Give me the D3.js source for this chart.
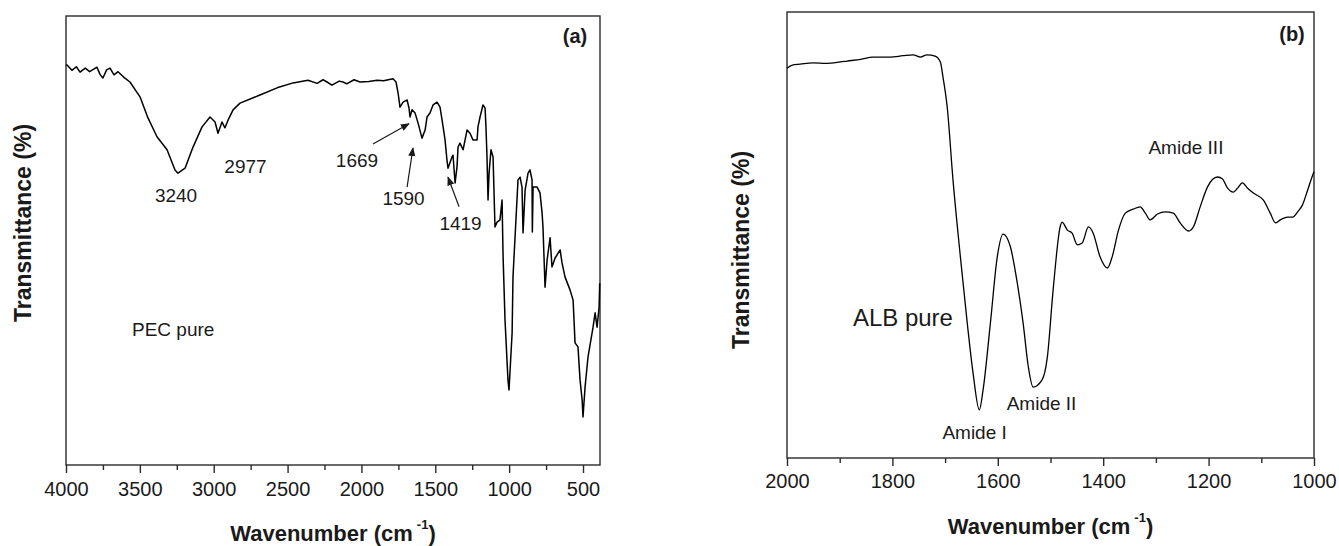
<!DOCTYPE html>
<html>
<head>
<meta charset="utf-8">
<script src="https://cdn.jsdelivr.net/npm/d3@7"></script>
<style>
  html, body { margin: 0; padding: 0; background: #fff; }
  svg { display: block; font-family: "Liberation Sans", Arial, sans-serif; }
</style>
</head>
<body>
<svg id="chart" width="1339" height="546"></svg>
<script>
// ---- FTIR spectrum of pure PEC (4000–400 cm-1) ----
const pecWavenumber = [4000, 3993, 3960, 3930, 3905, 3870, 3840, 3790, 3770, 3750, 3725, 3702, 3675, 3648, 3610, 3567, 3499, 3445, 3384, 3316, 3262, 3242, 3194, 3140, 3079, 3025, 2991, 2971, 2944, 2924, 2903, 2869, 2822, 2687, 2571, 2463, 2362, 2300, 2260, 2233, 2200, 2150, 2125, 2100, 2050, 2010, 1950, 1894, 1850, 1786, 1766, 1752, 1739, 1718, 1691, 1678, 1671, 1658, 1637, 1617, 1590, 1569, 1556, 1536, 1515, 1488, 1468, 1454, 1434, 1421, 1414, 1387, 1380, 1366, 1353, 1346, 1333, 1312, 1285, 1265, 1245, 1217, 1211, 1197, 1177, 1163, 1157, 1150, 1143, 1136, 1123, 1109, 1096, 1082, 1062, 1048, 1041, 1028, 1008, 1001, 980, 974, 960, 940, 926, 913, 906, 892, 872, 859, 845, 843, 838, 811, 791, 777, 771, 757, 743, 723, 710, 689, 655, 642, 622, 588, 567, 554, 534, 520, 506, 500, 486, 466, 432, 418, 405, 391, 387];
const pecTransmittance = [89.1, 89.1, 87.9, 88.7, 87.5, 88.4, 87.6, 88.6, 87.0, 86.2, 88.0, 88.4, 86.9, 87.6, 86.4, 85.3, 82.0, 77.3, 73.1, 70.2, 65.7, 65.0, 66.1, 70.8, 75.3, 77.5, 76.4, 73.9, 76.4, 75.1, 76.8, 79.1, 80.6, 82.4, 84.0, 85.1, 85.7, 85.0, 85.8, 85.3, 84.6, 85.5, 85.3, 84.9, 85.8, 85.3, 85.4, 85.7, 85.6, 86.0, 85.3, 82.9, 79.7, 80.8, 81.3, 79.5, 77.5, 79.1, 78.4, 76.2, 72.8, 74.6, 77.5, 78.4, 80.2, 80.8, 79.7, 76.8, 72.4, 67.9, 66.1, 68.6, 69.0, 62.8, 66.4, 70.8, 71.7, 70.2, 74.6, 73.9, 72.4, 72.4, 75.3, 77.5, 80.2, 79.5, 75.3, 68.6, 59.0, 65.0, 70.2, 68.6, 53.0, 54.1, 54.6, 59.0, 46.3, 32.3, 18.9, 16.7, 29.4, 41.9, 50.8, 63.5, 64.1, 61.9, 51.7, 61.2, 65.0, 65.7, 63.5, 51.9, 61.9, 61.9, 60.6, 56.1, 53.0, 39.6, 45.7, 50.6, 44.1, 46.1, 47.9, 45.0, 41.9, 39.0, 36.7, 27.2, 26.3, 18.9, 14.5, 10.7, 17.4, 24.1, 30.7, 33.9, 30.7, 35.2, 40.5];

// ---- FTIR spectrum of pure ALB (2000–1000 cm-1) ----
const albWavenumber = [2000, 1990, 1975, 1951, 1925, 1899, 1886, 1860, 1837, 1804, 1780, 1761, 1747, 1734, 1719, 1709, 1704, 1696, 1685, 1671, 1658, 1647, 1635, 1628, 1614, 1601, 1590, 1576, 1563, 1552, 1542, 1533, 1516, 1506, 1495, 1481, 1478, 1468, 1459, 1449, 1440, 1428, 1419, 1406, 1392, 1383, 1371, 1358, 1343, 1330, 1320, 1311, 1297, 1282, 1267, 1254, 1238, 1229, 1216, 1202, 1183, 1174, 1164, 1153, 1145, 1136, 1126, 1115, 1096, 1083, 1073, 1064, 1050, 1041, 1031, 1022, 1012, 1001, 1000];
const albTransmittance = [87.4, 88.1, 88.3, 88.6, 88.5, 88.8, 89.0, 89.4, 89.9, 89.9, 90.2, 90.4, 89.9, 90.4, 90.1, 88.8, 85.4, 78.7, 62.3, 45.1, 30.3, 19.1, 10.8, 15.2, 30.3, 45.1, 50.2, 47.3, 39.2, 30.3, 20.4, 15.9, 17.5, 22.6, 37.7, 52.2, 52.9, 51.1, 50.4, 47.8, 48.2, 51.8, 50.4, 45.1, 42.6, 45.1, 51.1, 54.9, 55.8, 56.3, 54.9, 53.4, 54.7, 55.2, 54.9, 52.7, 50.9, 51.8, 56.3, 60.8, 63.0, 62.6, 60.5, 59.6, 60.5, 61.7, 60.5, 59.4, 57.8, 54.9, 52.7, 53.4, 54.0, 54.0, 55.2, 56.7, 60.1, 63.9, 64.2];

// ---- axis ticks ----
const pecTicks = [4000, 3500, 3000, 2500, 2000, 1500, 1000, 500];
const pecMinorTicks = [3750, 3250, 2750, 2250, 1750, 1250, 750];
const albTicks = [2000, 1800, 1600, 1400, 1200, 1000];
const albMinorTicks = [1900, 1700, 1500, 1300, 1100];

// ---- band labels (anchored in wavenumber / transmittance units) ----
const pecLabels = [
  { text: "3240", wn: 3255, t: 58.6, anchor: "middle" },
  { text: "2977", wn: 2785, t: 65.0, anchor: "middle" },
  { text: "1669", wn: 2030, t: 66.4, anchor: "middle" },
  { text: "1590", wn: 1715, t: 57.9, anchor: "middle" },
  { text: "1419", wn: 1329, t: 52.3, anchor: "middle" },
  { text: "PEC pure", wn: 3553, t: 28.7, anchor: "start" }
];
const pecArrows = [
  { from: [1922, 71.5], to: [1678, 76.0] },
  { from: [1691, 61.9], to: [1651, 70.6] },
  { from: [1339, 57.5], to: [1414, 64.1] }
];
const albLabels = [
  { text: "Amide I", wn: 1644, t: 4.3, anchor: "middle", size: 19 },
  { text: "Amide II", wn: 1517, t: 10.8, anchor: "middle", size: 19 },
  { text: "Amide III", wn: 1243, t: 68.2, anchor: "middle", size: 19 },
  { text: "ALB pure", wn: 1875, t: 29.6, anchor: "start", size: 24 }
];

const svg = d3.select("#chart");
const ink = "#1a1a1a";

svg.append("defs").append("marker")
  .attr("id", "arrowhead")
  .attr("viewBox", "0 0 10 10")
  .attr("refX", 9).attr("refY", 5)
  .attr("markerWidth", 9).attr("markerHeight", 9)
  .attr("markerUnits", "userSpaceOnUse")
  .attr("orient", "auto")
  .append("path").attr("d", "M0,1 L10,5 L0,9 Z").attr("fill", ink);

function panel(cfg) {
  const x = d3.scaleLinear().domain(cfg.xDomain).range([cfg.left, cfg.right]);
  const y = d3.scaleLinear().domain([0, 100]).range([cfg.bottom, cfg.top]);
  const g = svg.append("g");

  // frame
  g.append("rect")
    .attr("x", cfg.left).attr("y", cfg.top)
    .attr("width", cfg.right - cfg.left).attr("height", cfg.bottom - cfg.top)
    .attr("fill", "none").attr("stroke", "#2a2a2a").attr("stroke-width", 1.4);

  // minor ticks
  const minor = g.append("g").attr("transform", `translate(0,${cfg.bottom})`)
    .call(d3.axisBottom(x).tickValues(cfg.minor).tickSize(5).tickSizeOuter(0).tickFormat(""));
  minor.select(".domain").remove();
  minor.selectAll("line").attr("stroke", "#2a2a2a").attr("stroke-width", 1.4);

  // major ticks and labels
  const major = g.append("g").attr("transform", `translate(0,${cfg.bottom})`)
    .call(d3.axisBottom(x).tickValues(cfg.ticks).tickSize(8).tickSizeOuter(0)
      .tickPadding(cfg.tickPad).tickFormat(d3.format("d")));
  major.select(".domain").remove();
  major.selectAll("line").attr("stroke", "#2a2a2a").attr("stroke-width", 1.4);
  major.selectAll("text")
    .attr("font-family", "'Liberation Sans', Arial, sans-serif")
    .attr("font-size", 20).attr("fill", ink);

  // spectrum
  const pts = cfg.wn.map((w, i) => [w, cfg.t[i]]);
  g.append("path").datum(pts)
    .attr("fill", "none").attr("stroke", "#000").attr("stroke-width", cfg.lineWidth)
    .attr("stroke-linejoin", "round")
    .attr("d", d3.line().x(d => x(d[0])).y(d => y(d[1])).curve(cfg.curve));

  // axis titles
  const xt = g.append("text")
    .attr("x", (cfg.left + cfg.right) / 2).attr("y", cfg.xTitleY)
    .attr("text-anchor", "middle").attr("font-weight", "bold")
    .attr("font-size", 22).attr("fill", ink);
  xt.append("tspan").text("Wavenumber (cm");
  xt.append("tspan").attr("font-size", 13).attr("dx", 4).attr("dy", -12).text("-1");
  xt.append("tspan").attr("dy", 12).text(")");

  g.append("text")
    .attr("transform", `translate(${cfg.yTitleX},${cfg.yTitleY}) rotate(-90)`)
    .attr("text-anchor", "middle").attr("dy", "0.36em")
    .attr("font-weight", "bold").attr("font-size", 23).attr("fill", ink)
    .text("Transmittance (%)");

  // panel tag
  g.append("text")
    .attr("x", cfg.tagX).attr("y", cfg.tagY)
    .attr("text-anchor", "middle").attr("font-weight", "bold")
    .attr("font-size", 20).attr("fill", ink).text(cfg.tag);

  // annotations
  g.selectAll("text.band").data(cfg.labels).join("text")
    .attr("class", "band")
    .attr("x", d => x(d.wn)).attr("y", d => y(d.t))
    .attr("text-anchor", d => d.anchor)
    .attr("font-size", d => d.size || 19).attr("fill", ink)
    .text(d => d.text);

  g.selectAll("line.arrow").data(cfg.arrows || []).join("line")
    .attr("class", "arrow")
    .attr("x1", d => x(d.from[0])).attr("y1", d => y(d.from[1]))
    .attr("x2", d => x(d.to[0])).attr("y2", d => y(d.to[1]))
    .attr("stroke", ink).attr("stroke-width", 1.2)
    .attr("marker-end", "url(#arrowhead)");
}

panel({
  xDomain: [4000, 385], left: 66, right: 600, top: 16, bottom: 465,
  ticks: pecTicks, minor: pecMinorTicks, tickPad: 9,
  wn: pecWavenumber, t: pecTransmittance, curve: d3.curveLinear, lineWidth: 1.5,
  xTitleY: 541, yTitleX: 23, yTitleY: 223,
  tag: "(a)", tagX: 575, tagY: 43,
  labels: pecLabels, arrows: pecArrows
});

panel({
  xDomain: [2000, 1000], left: 787, right: 1314, top: 12, bottom: 458,
  ticks: albTicks, minor: albMinorTicks, tickPad: 8,
  wn: albWavenumber, t: albTransmittance, curve: d3.curveMonotoneX, lineWidth: 1.3,
  xTitleY: 534, yTitleX: 741, yTitleY: 250,
  tag: "(b)", tagX: 1292, tagY: 41,
  labels: albLabels, arrows: []
});
</script>
</body>
</html>
